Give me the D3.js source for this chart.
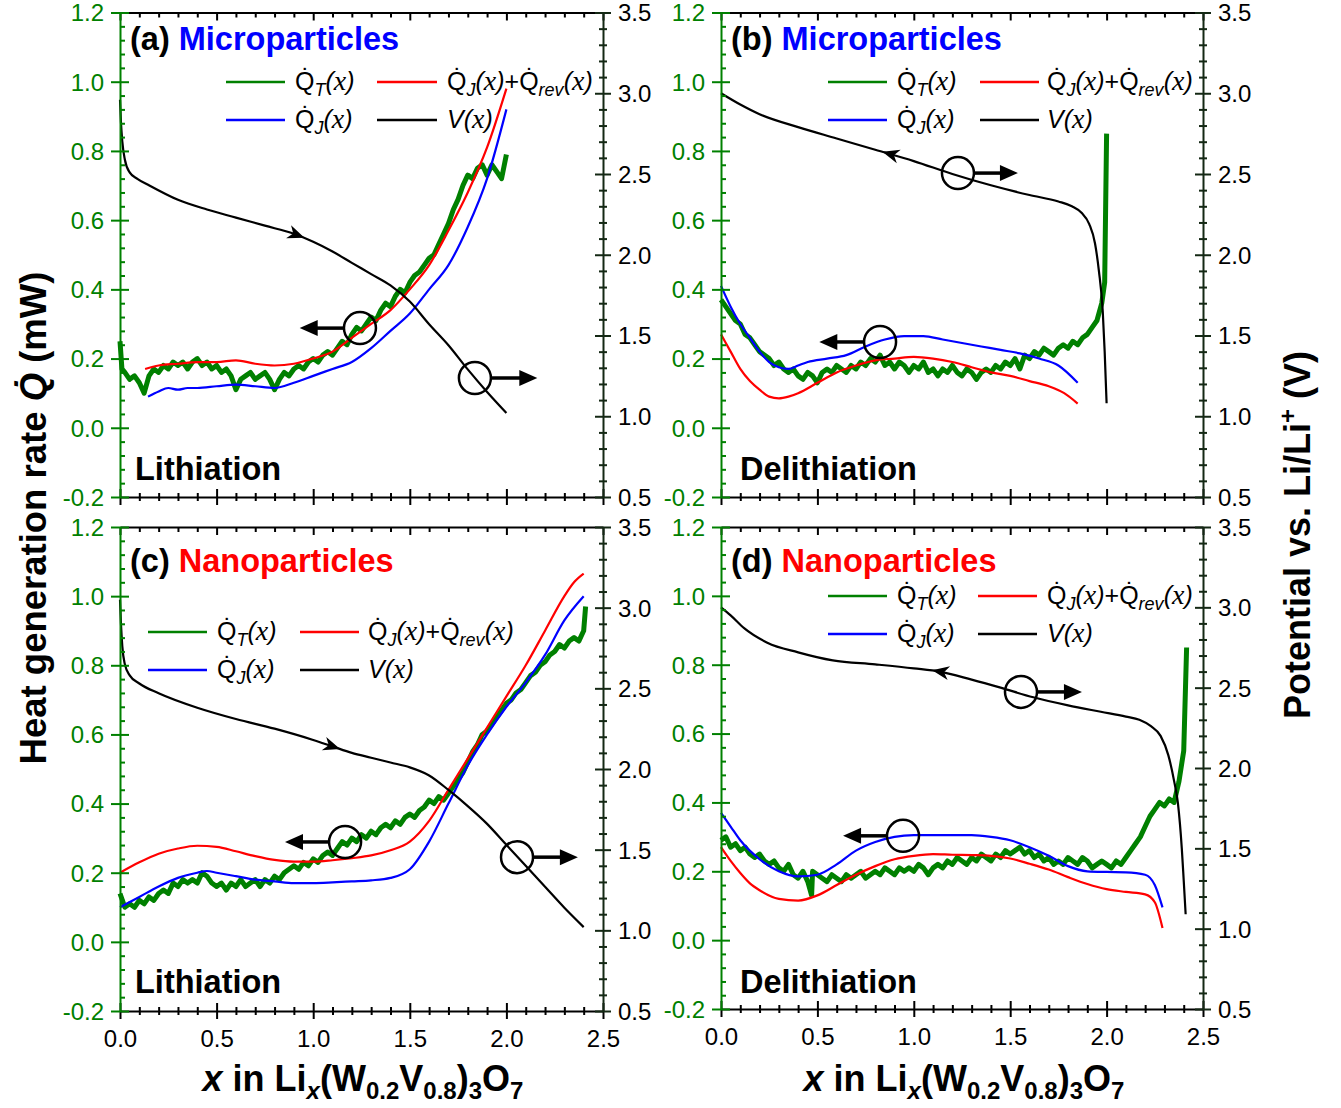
<!DOCTYPE html>
<html><head><meta charset="utf-8">
<script src="https://cdn.jsdelivr.net/npm/d3@7"></script>
<style>body{margin:0;background:#fff}</style>
</head><body>
<svg id="chart" width="1341" height="1108" xmlns="http://www.w3.org/2000/svg"></svg>
<script>
// ---------------- DATA ----------------
const xMajor = [0, 0.5, 1.0, 1.5, 2.0, 2.5];
const xMinor = [0.1,0.2,0.3,0.4,0.6,0.7,0.8,0.9,1.1,1.2,1.3,1.4,1.6,1.7,1.8,1.9,2.1,2.2,2.3,2.4];
const qMajor = [-0.2, 0.0, 0.2, 0.4, 0.6, 0.8, 1.0, 1.2];
const qMinor = [-0.16,-0.12,-0.08,-0.04,0.04,0.08,0.12,0.16,0.24,0.28,0.32,0.36,0.44,0.48,0.52,0.56,0.64,0.68,0.72,0.76,0.84,0.88,0.92,0.96,1.04,1.08,1.12,1.16];
const vMajor = [0.5, 1.0, 1.5, 2.0, 2.5, 3.0, 3.5];
const vMinor = [0.6,0.7,0.8,0.9,1.1,1.2,1.3,1.4,1.6,1.7,1.8,1.9,2.1,2.2,2.3,2.4,2.6,2.7,2.8,2.9,3.1,3.2,3.3,3.4];

// (a) Microparticles, lithiation
const qtA = [[0,0.25],[0.01,0.17],[0.025,0.16],[0.05,0.14],[0.075,0.15],[0.1,0.13],[0.125,0.10],[0.15,0.15],[0.175,0.17],[0.2,0.16],[0.225,0.18],[0.25,0.17],[0.275,0.19],[0.3,0.18],[0.325,0.19],[0.35,0.17],[0.375,0.19],[0.4,0.20],[0.425,0.18],[0.45,0.19],[0.475,0.17],[0.5,0.18],[0.525,0.16],[0.55,0.17],[0.575,0.15],[0.6,0.11],[0.625,0.14],[0.65,0.15],[0.675,0.16],[0.7,0.14],[0.725,0.15],[0.75,0.16],[0.775,0.14],[0.8,0.11],[0.825,0.14],[0.85,0.16],[0.875,0.15],[0.9,0.17],[0.925,0.18],[0.95,0.17],[0.975,0.19],[1.0,0.20],[1.025,0.19],[1.05,0.21],[1.075,0.22],[1.1,0.21],[1.125,0.23],[1.15,0.25],[1.175,0.24],[1.2,0.27],[1.225,0.29],[1.25,0.28],[1.275,0.30],[1.3,0.32],[1.325,0.31],[1.35,0.34],[1.375,0.36],[1.4,0.35],[1.425,0.38],[1.45,0.40],[1.475,0.39],[1.5,0.42],[1.525,0.44],[1.55,0.45],[1.575,0.47],[1.6,0.49],[1.625,0.50],[1.65,0.53],[1.675,0.56],[1.7,0.59],[1.725,0.63],[1.75,0.66],[1.775,0.70],[1.8,0.73],[1.825,0.72],[1.85,0.75],[1.875,0.76],[1.9,0.73],[1.925,0.76],[1.95,0.74],[1.975,0.72],[2.0,0.79]];
const rA = [[0.13,0.17],[0.2,0.18],[0.3,0.185],[0.4,0.19],[0.5,0.19],[0.6,0.195],[0.7,0.185],[0.8,0.18],[0.9,0.185],[1.0,0.20],[1.1,0.22],[1.2,0.26],[1.3,0.30],[1.4,0.34],[1.5,0.40],[1.6,0.47],[1.7,0.57],[1.8,0.68],[1.9,0.81],[2.0,0.98]];
const bA = [[0.145,0.09],[0.2,0.105],[0.25,0.115],[0.3,0.11],[0.35,0.115],[0.4,0.115],[0.5,0.12],[0.6,0.125],[0.7,0.12],[0.8,0.115],[0.9,0.13],[1.0,0.15],[1.1,0.17],[1.2,0.19],[1.3,0.23],[1.4,0.28],[1.5,0.33],[1.6,0.40],[1.7,0.47],[1.8,0.58],[1.9,0.72],[2.0,0.92]];
const vA = [[0,2.96],[0.005,2.82],[0.012,2.70],[0.025,2.59],[0.05,2.51],[0.09,2.47],[0.15,2.43],[0.3,2.34],[0.45,2.28],[0.6,2.23],[0.75,2.18],[0.9,2.13],[1.0,2.08],[1.1,2.02],[1.2,1.95],[1.3,1.88],[1.4,1.81],[1.5,1.71],[1.6,1.57],[1.7,1.44],[1.8,1.29],[1.9,1.15],[2.0,1.02]];

// (b) Microparticles, delithiation
const qtB = [[0,0.37],[0.025,0.35],[0.05,0.33],[0.075,0.31],[0.1,0.30],[0.125,0.27],[0.15,0.26],[0.175,0.24],[0.2,0.22],[0.225,0.21],[0.25,0.20],[0.275,0.18],[0.3,0.19],[0.325,0.17],[0.35,0.16],[0.375,0.17],[0.4,0.15],[0.425,0.14],[0.45,0.16],[0.475,0.15],[0.5,0.13],[0.525,0.16],[0.55,0.17],[0.575,0.16],[0.6,0.18],[0.625,0.17],[0.65,0.16],[0.675,0.18],[0.7,0.17],[0.725,0.19],[0.75,0.18],[0.775,0.20],[0.8,0.19],[0.825,0.21],[0.85,0.18],[0.875,0.19],[0.9,0.17],[0.925,0.19],[0.95,0.18],[0.975,0.16],[1.0,0.18],[1.025,0.17],[1.05,0.19],[1.075,0.16],[1.1,0.17],[1.125,0.15],[1.15,0.17],[1.175,0.16],[1.2,0.18],[1.225,0.16],[1.25,0.15],[1.275,0.17],[1.3,0.16],[1.325,0.14],[1.35,0.16],[1.375,0.17],[1.4,0.16],[1.425,0.18],[1.45,0.17],[1.475,0.19],[1.5,0.18],[1.525,0.20],[1.55,0.17],[1.575,0.21],[1.6,0.20],[1.625,0.22],[1.65,0.21],[1.675,0.23],[1.7,0.22],[1.725,0.21],[1.75,0.23],[1.775,0.24],[1.8,0.23],[1.825,0.25],[1.85,0.24],[1.875,0.26],[1.9,0.27],[1.925,0.29],[1.95,0.31],[1.975,0.36],[1.99,0.42],[2.0,0.85]];
const rB = [[0,0.27],[0.05,0.22],[0.1,0.17],[0.15,0.135],[0.2,0.11],[0.25,0.09],[0.3,0.085],[0.35,0.09],[0.4,0.10],[0.5,0.13],[0.6,0.16],[0.7,0.18],[0.8,0.195],[0.9,0.20],[1.0,0.205],[1.1,0.20],[1.2,0.19],[1.3,0.175],[1.4,0.16],[1.5,0.15],[1.6,0.135],[1.7,0.12],[1.78,0.10],[1.85,0.07]];
const bB = [[0,0.41],[0.05,0.35],[0.1,0.30],[0.15,0.26],[0.2,0.22],[0.25,0.19],[0.3,0.175],[0.35,0.17],[0.4,0.18],[0.45,0.19],[0.55,0.20],[0.65,0.21],[0.75,0.235],[0.85,0.255],[0.95,0.265],[1.05,0.265],[1.15,0.255],[1.25,0.245],[1.35,0.235],[1.45,0.225],[1.55,0.215],[1.65,0.20],[1.75,0.18],[1.85,0.13]];
const vB = [[0,3.0],[0.1,2.93],[0.2,2.87],[0.4,2.79],[0.6,2.72],[0.8,2.65],[1.0,2.58],[1.2,2.50],[1.4,2.43],[1.6,2.37],[1.75,2.33],[1.82,2.30],[1.87,2.26],[1.91,2.19],[1.94,2.07],[1.96,1.90],[1.98,1.65],[1.99,1.40],[2.0,1.08]];

// (c) Nanoparticles, lithiation
const qtC = [[0,0.14],[0.025,0.10],[0.05,0.11],[0.075,0.10],[0.1,0.12],[0.125,0.11],[0.15,0.13],[0.175,0.12],[0.2,0.14],[0.225,0.15],[0.25,0.14],[0.275,0.17],[0.3,0.16],[0.325,0.18],[0.35,0.17],[0.375,0.18],[0.4,0.17],[0.425,0.20],[0.45,0.19],[0.475,0.17],[0.5,0.16],[0.525,0.17],[0.55,0.15],[0.575,0.17],[0.6,0.16],[0.625,0.18],[0.65,0.16],[0.675,0.17],[0.7,0.18],[0.725,0.16],[0.75,0.18],[0.775,0.17],[0.8,0.19],[0.825,0.18],[0.85,0.20],[0.875,0.21],[0.9,0.22],[0.925,0.21],[0.95,0.23],[0.975,0.22],[1.0,0.24],[1.025,0.23],[1.05,0.25],[1.075,0.26],[1.1,0.25],[1.125,0.27],[1.15,0.29],[1.175,0.28],[1.2,0.30],[1.225,0.29],[1.25,0.31],[1.275,0.30],[1.3,0.32],[1.325,0.31],[1.35,0.33],[1.375,0.34],[1.4,0.33],[1.425,0.35],[1.45,0.34],[1.475,0.36],[1.5,0.37],[1.525,0.36],[1.55,0.38],[1.575,0.39],[1.6,0.41],[1.625,0.40],[1.65,0.42],[1.675,0.41],[1.7,0.43],[1.725,0.45],[1.75,0.47],[1.775,0.49],[1.8,0.52],[1.825,0.55],[1.85,0.57],[1.875,0.60],[1.9,0.61],[1.925,0.63],[1.95,0.65],[1.975,0.67],[2.0,0.69],[2.025,0.70],[2.05,0.72],[2.075,0.73],[2.1,0.75],[2.125,0.77],[2.15,0.78],[2.175,0.80],[2.2,0.81],[2.225,0.83],[2.25,0.84],[2.275,0.86],[2.3,0.85],[2.325,0.87],[2.35,0.88],[2.375,0.87],[2.4,0.90],[2.41,0.97]];
const rC = [[0,0.20],[0.1,0.23],[0.2,0.255],[0.3,0.27],[0.4,0.278],[0.5,0.275],[0.6,0.262],[0.7,0.248],[0.8,0.237],[0.9,0.232],[1.0,0.232],[1.1,0.236],[1.2,0.242],[1.3,0.25],[1.4,0.265],[1.5,0.29],[1.6,0.35],[1.7,0.44],[1.8,0.53],[1.9,0.62],[2.0,0.71],[2.1,0.80],[2.2,0.90],[2.3,1.00],[2.35,1.04],[2.4,1.065]];
const bC = [[0,0.10],[0.1,0.13],[0.2,0.16],[0.3,0.185],[0.4,0.20],[0.45,0.205],[0.5,0.20],[0.6,0.19],[0.7,0.18],[0.8,0.175],[0.9,0.17],[1.0,0.17],[1.1,0.172],[1.2,0.175],[1.3,0.178],[1.4,0.185],[1.5,0.21],[1.6,0.29],[1.7,0.40],[1.8,0.51],[1.9,0.60],[2.0,0.68],[2.1,0.75],[2.2,0.83],[2.3,0.93],[2.4,1.00]];
const vC = [[0,3.05],[0.005,2.90],[0.012,2.76],[0.025,2.65],[0.05,2.58],[0.1,2.53],[0.2,2.47],[0.4,2.38],[0.6,2.31],[0.8,2.25],[1.0,2.18],[1.1,2.14],[1.2,2.10],[1.3,2.07],[1.4,2.04],[1.5,2.01],[1.6,1.96],[1.7,1.87],[1.8,1.77],[1.9,1.66],[2.0,1.53],[2.1,1.40],[2.2,1.27],[2.3,1.14],[2.4,1.02]];

// (d) Nanoparticles, delithiation
const qtD = [[0,0.29],[0.025,0.30],[0.05,0.27],[0.075,0.28],[0.1,0.26],[0.125,0.27],[0.15,0.25],[0.175,0.24],[0.2,0.25],[0.225,0.23],[0.25,0.22],[0.275,0.23],[0.3,0.21],[0.325,0.20],[0.35,0.22],[0.375,0.19],[0.4,0.18],[0.425,0.20],[0.45,0.17],[0.47,0.13],[0.475,0.20],[0.5,0.19],[0.525,0.18],[0.55,0.17],[0.575,0.19],[0.6,0.18],[0.625,0.17],[0.65,0.19],[0.675,0.18],[0.7,0.19],[0.725,0.20],[0.75,0.18],[0.775,0.19],[0.8,0.20],[0.825,0.19],[0.85,0.21],[0.875,0.20],[0.9,0.19],[0.925,0.21],[0.95,0.20],[0.975,0.21],[1.0,0.20],[1.025,0.22],[1.05,0.21],[1.075,0.19],[1.1,0.21],[1.125,0.22],[1.15,0.21],[1.175,0.23],[1.2,0.22],[1.225,0.24],[1.25,0.23],[1.275,0.22],[1.3,0.24],[1.325,0.23],[1.35,0.25],[1.375,0.24],[1.4,0.23],[1.425,0.25],[1.45,0.24],[1.475,0.26],[1.5,0.25],[1.525,0.26],[1.55,0.27],[1.575,0.25],[1.6,0.26],[1.625,0.24],[1.65,0.25],[1.675,0.23],[1.7,0.24],[1.725,0.22],[1.75,0.23],[1.775,0.22],[1.8,0.24],[1.825,0.23],[1.85,0.22],[1.875,0.24],[1.9,0.23],[1.925,0.21],[1.95,0.22],[1.975,0.23],[2.0,0.22],[2.025,0.21],[2.05,0.23],[2.075,0.22],[2.1,0.24],[2.125,0.26],[2.15,0.28],[2.175,0.30],[2.2,0.33],[2.225,0.36],[2.25,0.38],[2.275,0.40],[2.3,0.39],[2.325,0.41],[2.35,0.40],[2.375,0.46],[2.4,0.55],[2.415,0.85]];
const rD = [[0,0.27],[0.05,0.23],[0.1,0.195],[0.15,0.165],[0.2,0.145],[0.3,0.12],[0.4,0.115],[0.5,0.13],[0.6,0.16],[0.7,0.19],[0.8,0.215],[0.9,0.235],[1.0,0.245],[1.1,0.25],[1.2,0.248],[1.3,0.247],[1.4,0.245],[1.5,0.237],[1.6,0.222],[1.7,0.205],[1.8,0.183],[1.9,0.163],[2.0,0.148],[2.1,0.14],[2.2,0.133],[2.25,0.11],[2.29,0.035]];
const bD = [[0,0.37],[0.05,0.33],[0.1,0.29],[0.2,0.235],[0.3,0.20],[0.4,0.185],[0.5,0.19],[0.6,0.22],[0.7,0.26],[0.8,0.285],[0.9,0.30],[1.0,0.305],[1.1,0.305],[1.2,0.305],[1.3,0.305],[1.4,0.30],[1.5,0.29],[1.6,0.27],[1.7,0.245],[1.8,0.215],[1.9,0.20],[2.0,0.198],[2.1,0.197],[2.2,0.19],[2.25,0.16],[2.29,0.095]];
const vD = [[0,3.0],[0.05,2.95],[0.12,2.87],[0.24,2.78],[0.4,2.72],[0.58,2.67],[0.8,2.645],[1.0,2.62],[1.136,2.60],[1.3,2.55],[1.45,2.50],[1.62,2.44],[1.8,2.39],[1.97,2.35],[2.1,2.32],[2.17,2.30],[2.23,2.26],[2.28,2.20],[2.32,2.08],[2.35,1.92],[2.37,1.78],[2.39,1.50],[2.40,1.30],[2.41,1.09]];

// annotation anchors in data units [x, q, direction, arrow tip x]
const circA = [[1.242,0.288,'left',0.93],[1.837,0.144,'right',2.16]];
const circB = [[1.229,0.736,'right',1.54],[0.825,0.248,'left',0.51]];
const circC = [[1.165,0.289,'left',0.854],[2.055,0.245,'right',2.37]];
const circD = [[1.556,0.721,'right',1.872],[0.944,0.303,'left',0.633]];
const vArrowA = [0.916,'right'], vArrowB = [0.877,'left'], vArrowC = [1.10,'right'], vArrowD = [1.136,'left'];

// ---------------- DRAW ----------------
const GREEN = '#008000', BLUE = '#0000ff', RED = '#ff0000', RAX = '#142814';
const SANS = '"Liberation Sans", Arial, Helvetica, sans-serif';
const SERIF = '"Liberation Serif", "Times New Roman", serif';
const svg = d3.select('#chart');
svg.append('rect').attr('width',1341).attr('height',1108).attr('fill','#fff');

const panels = [
  {box:[120,603,12.5,497], qt:qtA, r:rA, b:bA, v:vA, circ:circA, va:vArrowA, letter:'(a) ', name:'Microparticles', nc:BLUE, phase:'Lithiation', px:130, py:50, phx:135, phy:480,
   leg:{y1:82,y2:120,l1:[226,285],l2:[377,437],t1:295,t2:447}, xlab:false},
  {box:[721,1203,12.5,497], qt:qtB, r:rB, b:bB, v:vB, circ:circB, va:vArrowB, letter:'(b) ', name:'Microparticles', nc:BLUE, phase:'Delithiation', px:731, py:50, phx:740, phy:480,
   leg:{y1:82,y2:120,l1:[828,887],l2:[980,1039],t1:897,t2:1047}, xlab:false},
  {box:[120,603,527,1011], qt:qtC, r:rC, b:bC, v:vC, circ:circC, va:vArrowC, letter:'(c) ', name:'Nanoparticles', nc:RED, phase:'Lithiation', px:130, py:572, phx:135, phy:993,
   leg:{y1:632,y2:670,l1:[148,207],l2:[300,359],t1:217,t2:368}, xlab:true},
  {box:[721,1203,527,1009], qt:qtD, r:rD, b:bD, v:vD, circ:circD, va:vArrowD, letter:'(d) ', name:'Nanoparticles', nc:RED, phase:'Delithiation', px:731, py:572, phx:740, phy:993,
   leg:{y1:596,y2:634,l1:[828,887],l2:[978,1037],t1:897,t2:1047}, xlab:true}
];

function legendText(g, x, y, parts){
  const t = g.append('text').attr('x',x).attr('y',y).attr('font-family',SANS).attr('font-size',25).attr('fill','#000');
  let shift = 0;
  parts.forEach(([s,k])=>{
    const ts = t.append('tspan').text(s);
    let target = 0;
    if(k==='s'){ ts.attr('font-size',18).attr('font-style','italic'); target = 6; }
    else if(k==='p' || k==='i'){ ts.attr('font-style','italic'); }
    else if(k==='x'){ ts.attr('font-family',SERIF).attr('font-style','italic').attr('font-size',28); }
    if(target!==shift){ ts.attr('dy', target-shift); shift = target; }
  });
}
const LQT = [['Q\u0307','n'],['T','s'],['(','p'],['x','x'],[')','p']];
const LQJ = [['Q\u0307','n'],['J','s'],['(','p'],['x','x'],[')','p']];
const LQR = [['Q\u0307','n'],['J','s'],['(','p'],['x','x'],[')','p'],['+','n'],['Q\u0307','n'],['rev','s'],['(','p'],['x','x'],[')','p']];
const LV  = [['V','i'],['(','p'],['x','x'],[')','p']];

const fmt = d => d3.format('.1f')(d).replace('\u2212','-');

panels.forEach(p=>{
  const [x0,x1,y0,y1] = p.box;
  const xs = d3.scaleLinear().domain([0,2.5]).range([x0,x1]);
  const yq = d3.scaleLinear().domain([-0.2,1.2]).range([y1,y0]);
  const yv = d3.scaleLinear().domain([0.5,3.5]).range([y1,y0]);
  const g = svg.append('g');

  const smoothQ = d3.line().x(d=>xs(d[0])).y(d=>yq(d[1])).curve(d3.curveMonotoneX);
  const smoothV = d3.line().x(d=>xs(d[0])).y(d=>yv(d[1])).curve(d3.curveMonotoneX);
  const rawQ = d3.line().x(d=>xs(d[0])).y(d=>yq(d[1]));

  // data lines
  g.append('path').attr('d',rawQ(p.qt)).attr('fill','none').attr('stroke',GREEN).attr('stroke-width',5).attr('stroke-linejoin','round');
  g.append('path').attr('d',smoothQ(p.r)).attr('fill','none').attr('stroke',RED).attr('stroke-width',2.2);
  g.append('path').attr('d',smoothQ(p.b)).attr('fill','none').attr('stroke',BLUE).attr('stroke-width',2.2);
  const vPath = g.append('path').attr('d',smoothV(p.v)).attr('fill','none').attr('stroke','#000').attr('stroke-width',2.2);

  // arrowhead on V curve
  const node = vPath.node();
  const total = node.getTotalLength();
  const tx = xs(p.va[0]);
  let lo=0, hi=total;
  for(let i=0;i<40;i++){ const m=(lo+hi)/2; if(node.getPointAtLength(m).x<tx) lo=m; else hi=m; }
  const L=(lo+hi)/2, pa=node.getPointAtLength(Math.max(0,L-4)), pb=node.getPointAtLength(Math.min(total,L+4)), pc=node.getPointAtLength(L);
  let ang = Math.atan2(pb.y-pa.y, pb.x-pa.x)*180/Math.PI;
  if(p.va[1]==='left') ang += 180;
  g.append('path').attr('d','M8,0 L-9,-7 L-4,0 L-9,7 Z').attr('fill','#000')
    .attr('transform',`translate(${pc.x},${pc.y}) rotate(${ang})`);

  // circles with arrows
  p.circ.forEach(([cx,cq,dir,tipX])=>{
    const X = xs(cx), Y = yq(cq), r = 16, tip = xs(tipX);
    g.append('circle').attr('cx',X).attr('cy',Y).attr('r',r).attr('fill','none').attr('stroke','#000').attr('stroke-width',2.5);
    const sgn = dir==='right'?1:-1;
    g.append('line').attr('x1',X+sgn*r).attr('x2',tip-sgn*14).attr('y1',Y).attr('y2',Y).attr('stroke','#000').attr('stroke-width',3.5);
    g.append('path').attr('d','M0,0 L-18,-8 L-18,8 Z').attr('fill','#000')
      .attr('transform',`translate(${tip},${Y}) rotate(${dir==='right'?0:180})`);
  });

  // axes
  const ax = svg.append('g').attr('font-family',SANS);
  function style(sel,color){ sel.selectAll('.domain').attr('stroke',color).attr('stroke-width',2); sel.selectAll('.tick line').attr('stroke',color).attr('stroke-width',2); }
  // bottom
  const bMaj = ax.append('g').attr('transform',`translate(0,${y1})`).call(d3.axisBottom(xs).tickValues(xMajor).tickSizeOuter(0).tickFormat(p.xlab?fmt:()=>''));
  bMaj.selectAll('.tick line').attr('y1',-8).attr('y2',8);
  bMaj.selectAll('.tick text').attr('y',19).attr('dy','0.71em').attr('font-size',24).attr('fill','#000').attr('font-family',SANS);
  style(bMaj,'#000');
  const bMin = ax.append('g').attr('transform',`translate(0,${y1})`).call(d3.axisBottom(xs).tickValues(xMinor).tickSizeOuter(0).tickFormat(()=>''));
  bMin.selectAll('.tick line').attr('y1',-4).attr('y2',4); bMin.select('.domain').remove(); style(bMin,'#000');
  // top
  const tMaj = ax.append('g').attr('transform',`translate(0,${y0})`).call(d3.axisTop(xs).tickValues(xMajor).tickSizeOuter(0).tickFormat(()=>''));
  tMaj.selectAll('.tick line').attr('y1',0).attr('y2',8); style(tMaj,'#000');
  const tMin = ax.append('g').attr('transform',`translate(0,${y0})`).call(d3.axisTop(xs).tickValues(xMinor).tickSizeOuter(0).tickFormat(()=>''));
  tMin.selectAll('.tick line').attr('y1',0).attr('y2',5); tMin.select('.domain').remove(); style(tMin,'#000');
  // right (voltage)
  const rMaj = ax.append('g').attr('transform',`translate(${x1},0)`).call(d3.axisRight(yv).tickValues(vMajor).tickSizeOuter(0).tickFormat(fmt));
  rMaj.selectAll('.tick line').attr('x1',-8).attr('x2',8);
  rMaj.selectAll('.tick text').attr('x',15).attr('dy','0.35em').attr('font-size',24).attr('fill','#000').attr('font-family',SANS);
  style(rMaj,RAX);
  const rMin = ax.append('g').attr('transform',`translate(${x1},0)`).call(d3.axisRight(yv).tickValues(vMinor).tickSizeOuter(0).tickFormat(()=>''));
  rMin.selectAll('.tick line').attr('x1',-4).attr('x2',4); rMin.select('.domain').remove(); style(rMin,RAX);
  // left (heat) green
  const lMaj = ax.append('g').attr('transform',`translate(${x0},0)`).call(d3.axisLeft(yq).tickValues(qMajor).tickSizeOuter(0).tickFormat(fmt));
  lMaj.selectAll('.tick line').attr('x1',-9).attr('x2',9);
  lMaj.selectAll('.tick text').attr('x',-16).attr('dy','0.35em').attr('font-size',24).attr('fill',GREEN).attr('font-family',SANS);
  style(lMaj,GREEN);
  const lMin = ax.append('g').attr('transform',`translate(${x0},0)`).call(d3.axisLeft(yq).tickValues(qMinor).tickSizeOuter(0).tickFormat(()=>''));
  lMin.selectAll('.tick line').attr('x1',0).attr('x2',5); lMin.select('.domain').remove(); style(lMin,GREEN);

  // panel label
  const lab = svg.append('text').attr('x',p.px).attr('y',p.py).attr('font-family',SANS).attr('font-weight','bold').attr('font-size',32.5);
  lab.append('tspan').text(p.letter).attr('fill','#000');
  lab.append('tspan').text(p.name).attr('fill',p.nc);
  svg.append('text').attr('x',p.phx).attr('y',p.phy).attr('font-family',SANS).attr('font-weight','bold').attr('font-size',32.5).attr('fill','#000').text(p.phase);

  // legend
  const lg = svg.append('g');
  const L1 = p.leg;
  [[L1.l1,L1.y1,GREEN],[L1.l2,L1.y1,RED],[L1.l1,L1.y2,BLUE],[L1.l2,L1.y2,'#000']].forEach(([xx,yy,c])=>{
    lg.append('line').attr('x1',xx[0]).attr('x2',xx[1]).attr('y1',yy).attr('y2',yy).attr('stroke',c).attr('stroke-width',2.5);
  });
  legendText(lg, L1.t1, L1.y1+8, LQT);
  legendText(lg, L1.t2, L1.y1+8, LQR);
  legendText(lg, L1.t1, L1.y2+8, LQJ);
  legendText(lg, L1.t2, L1.y2+8, LV);
});

// axis titles
const yt = svg.append('text').attr('transform','translate(46,518) rotate(-90)').attr('text-anchor','middle')
  .attr('font-family',SANS).attr('font-weight','bold').attr('font-size',36.5).attr('fill','#000');
yt.append('tspan').text('Heat generation rate ');
yt.append('tspan').text('Q\u0307').attr('font-style','italic');
yt.append('tspan').text(' (mW)');

const vt = svg.append('text').attr('transform','translate(1310,535) rotate(-90)').attr('text-anchor','middle')
  .attr('font-family',SANS).attr('font-weight','bold').attr('font-size',36).attr('fill','#000');
vt.append('tspan').text('Potential vs. Li/Li');
vt.append('tspan').text('+').attr('font-size',24).attr('dy',-14);
vt.append('tspan').text(' (V)').attr('dy',14);

function xTitle(cx){
  const t = svg.append('text').attr('x',cx).attr('y',1091).attr('text-anchor','middle')
    .attr('font-family',SANS).attr('font-weight','bold').attr('font-size',36).attr('fill','#000');
  const parts = [['x','i',0],[' in Li','n',0],['x','si',8],['(W','n',0],['0.2','s',8],['V','n',0],['0.8','s',8],[')','n',0],['3','s',8],['O','n',0],['7','s',8]];
  let shift=0;
  parts.forEach(([s,k,off])=>{
    const ts = t.append('tspan').text(s);
    if(k==='i'||k==='si') ts.attr('font-style','italic');
    if(k==='s'||k==='si') ts.attr('font-size',24);
    if(off!==shift){ ts.attr('dy',off-shift); shift=off; }
  });
}
xTitle(363);
xTitle(964);
</script>
</body></html>
